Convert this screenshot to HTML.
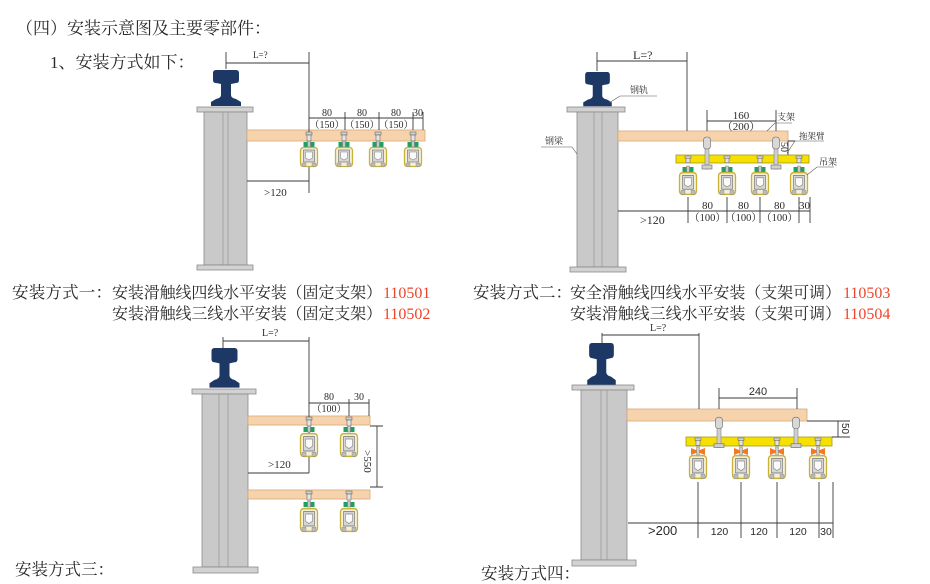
<!DOCTYPE html>
<html><head><meta charset="utf-8">
<style>
html,body{margin:0;padding:0;background:#fff;}
svg{display:block;}
.t{font-family:"Liberation Serif","Noto Serif CJK SC",serif;fill:#2a2a2a;}
.s{font-family:"Liberation Sans","Noto Sans CJK SC",sans-serif;fill:#2a2a2a;}
.r{font-family:"Liberation Serif",serif;fill:#f0442a;}
.d{stroke:#3a3a3a;stroke-width:0.9;fill:none;}
.pl{fill:#d2d2d2;stroke:#8a8a8a;stroke-width:0.8;}
.cl{fill:#c9c9c9;stroke:#8a8a8a;stroke-width:0.8;}
.il{stroke:#9c9c9c;stroke-width:0.8;}
.bm{fill:#f7d3ad;stroke:#d6a878;stroke-width:0.8;}
.yl{fill:#f6e000;stroke:#a89a10;stroke-width:0.8;}
</style></head><body>
<svg width="930" height="584" viewBox="0 0 930 584" xmlns="http://www.w3.org/2000/svg">
<defs>
<path id="rail" d="M-13,3 Q-13,0 -10,0 L10,0 Q13,0 13,3 L13,10 Q13,13 10,13 L5,14 L5,25 Q5,28 10,29 L15,32 L15,36 L-15,36 L-15,32 L-10,29 Q-5,28 -5,25 L-5,14 L-10,13 Q-13,13 -13,10 Z" fill="#1d3865"/>
<g id="cf">
 <rect x="-8.5" y="0.5" width="17" height="19" rx="3" fill="#f4f0d8" stroke="#c8b23a" stroke-width="1.3"/>
 <rect x="-5.5" y="3" width="11" height="12" fill="#d6d6d6" stroke="#7a7a7a" stroke-width="0.7"/>
 <path d="M-3.5,5 L3.5,5 L3.5,11 L0,13 L-3.5,11 Z" fill="#fafafa" stroke="#888" stroke-width="0.6"/>
 <path d="M-7,16 L-3,16 L-3,19.5 L-7,19.5 Z M3,16 L7,16 L7,19.5 L3,19.5 Z" fill="#bbb" stroke="#888" stroke-width="0.4"/>
</g>
<g id="gn">
 <rect x="-5.5" y="0" width="11" height="5" fill="#1fa060"/>
 <rect x="-1.5" y="-1" width="3" height="6" fill="#c9c9c9" stroke="#666" stroke-width="0.4"/>
</g>
<g id="or">
 <path d="M-7,0 L-2,2 L2,2 L7,0 L7,7 L2,5 L-2,5 L-7,7 Z" fill="#f47a22"/>
 <rect x="-1.5" y="-1" width="3" height="8" fill="#ccc" stroke="#777" stroke-width="0.4"/>
</g>
<g id="bt">
 <rect x="-3" y="0" width="6" height="3" fill="#d0d0d0" stroke="#555" stroke-width="0.5"/>
 <rect x="-2" y="3" width="4" height="6" fill="#e4e4e4" stroke="#555" stroke-width="0.5"/>
</g>
<g id="hb">
 <rect x="-2" y="0" width="4" height="28" fill="#cfcfcf" stroke="#777" stroke-width="0.5"/>
 <rect x="-3.5" y="-4" width="7" height="12" rx="3" fill="#d8d8d8" stroke="#666" stroke-width="0.6"/>
 <rect x="-5" y="24" width="10" height="4" fill="#d0d0d0" stroke="#666" stroke-width="0.6"/>
</g>
</defs>

<!-- Header text -->
<text class="t" x="16" y="34" font-size="17">（四）安装示意图及主要零部件：</text>
<text class="t" x="50" y="68" font-size="17">1、安装方式如下：</text>

<!-- ============ Diagram 1 ============ -->
<rect class="pl" x="197" y="107" width="56" height="5"/>
<rect class="cl" x="204" y="112" width="43" height="153"/>
<line class="il" x1="223" y1="112" x2="223" y2="265"/>
<line class="il" x1="228" y1="112" x2="228" y2="265"/>
<rect class="pl" x="197" y="265" width="56" height="5"/>
<use href="#rail" transform="translate(226,70)"/>
<rect class="bm" x="247" y="130" width="178" height="11"/>
<!-- dims -->
<path class="d" d="M226,52 V69 M226,63 H309 M309,52 V193 M309,118 H423 M345,112 V130 M379,112 V130 M413,112 V130 M423,112 V130 M247,181 H309"/>
<text class="t" x="253" y="58" font-size="9">L=?</text>
<g class="t" font-size="10" text-anchor="middle">
<text x="327" y="116">80</text><text x="362" y="116">80</text><text x="396" y="116">80</text><text x="418" y="116">30</text>
<text x="327" y="128">（150）</text><text x="362" y="128">（150）</text><text x="396" y="128">（150）</text>
</g>
<text class="t" x="264" y="196" font-size="11">&gt;120</text>
<!-- collectors -->
<g>
<use href="#bt" transform="translate(309,132)"/><use href="#gn" transform="translate(309,142)"/><use href="#cf" transform="translate(309,147)"/>
<use href="#bt" transform="translate(344,132)"/><use href="#gn" transform="translate(344,142)"/><use href="#cf" transform="translate(344,147)"/>
<use href="#bt" transform="translate(378,132)"/><use href="#gn" transform="translate(378,142)"/><use href="#cf" transform="translate(378,147)"/>
<use href="#bt" transform="translate(413,132)"/><use href="#gn" transform="translate(413,142)"/><use href="#cf" transform="translate(413,147)"/>
</g>

<!-- Captions 1 -->
<text class="t" x="12" y="298" font-size="16.5" textLength="100" lengthAdjust="spacing">安装方式一：</text>
<text class="t" x="112" y="298" font-size="16" textLength="270" lengthAdjust="spacing">安装滑触线四线水平安装（固定支架）</text>
<text class="r" x="383" y="298" font-size="16">110501</text>
<text class="t" x="112" y="319" font-size="16" textLength="270" lengthAdjust="spacing">安装滑触线三线水平安装（固定支架）</text>
<text class="r" x="383" y="319" font-size="16">110502</text>

<!-- ============ Diagram 2 ============ -->
<rect class="pl" x="567" y="107" width="58" height="5"/>
<rect class="cl" x="577" y="112" width="41" height="155"/>
<line class="il" x1="594" y1="112" x2="594" y2="267"/>
<line class="il" x1="602" y1="112" x2="602" y2="267"/>
<rect class="pl" x="570" y="267" width="56" height="5"/>
<use href="#rail" transform="translate(597.5,72) scale(0.95,0.95)"/>
<rect class="bm" x="618" y="131" width="170" height="10"/>
<rect class="yl" x="676" y="155" width="133" height="8"/>
<use href="#hb" transform="translate(707,141)"/>
<use href="#hb" transform="translate(776,141)"/>
<!-- collectors -->
<use href="#bt" transform="translate(688,156) scale(1,0.75)"/><use href="#gn" transform="translate(688,167)"/><use href="#cf" transform="translate(688,172) scale(1,1.15)"/>
<use href="#bt" transform="translate(727,156) scale(1,0.75)"/><use href="#gn" transform="translate(727,167)"/><use href="#cf" transform="translate(727,172) scale(1,1.15)"/>
<use href="#bt" transform="translate(760,156) scale(1,0.75)"/><use href="#gn" transform="translate(760,167)"/><use href="#cf" transform="translate(760,172) scale(1,1.15)"/>
<use href="#bt" transform="translate(799,156) scale(1,0.75)"/><use href="#gn" transform="translate(799,167)"/><use href="#cf" transform="translate(799,172) scale(1,1.15)"/>
<!-- dims -->
<path class="d" d="M597,52 V71 M597,61 H687 M687,52 V131 M707,110 V131 M776,110 V131 M707,121 H776 M788,141 H795 M788,141 V155"/>
<path class="d" d="M618,211 H810 M688,197 V223 M727,197 V223 M760,197 V223 M799,197 V223 M810,197 V223"/>
<text class="t" x="633" y="59" font-size="12">L=?</text>
<g class="t" font-size="11" text-anchor="middle">
<text x="741" y="119">160</text>
<text x="741" y="130">（200）</text>
<text x="707.5" y="209">80</text><text x="743.5" y="209">80</text><text x="779.5" y="209">80</text><text x="804.5" y="209">30</text>
</g>
<g class="t" font-size="10.5" text-anchor="middle">
<text x="707.5" y="221">（100）</text><text x="743.5" y="221">（100）</text><text x="779.5" y="221">（100）</text>
</g>
<text class="t" x="640" y="224" font-size="12">&gt;120</text>
<text class="t" font-size="10" transform="translate(781,142) rotate(90)">50</text>
<!-- leader labels -->
<path d="M609,103 L620,96 H657" stroke="#555" stroke-width="0.6" fill="none"/>
<text class="t" x="630" y="93" font-size="9">钢轨</text>
<path d="M577,154 L572,147 H541" stroke="#555" stroke-width="0.6" fill="none"/>
<text class="t" x="545" y="144" font-size="9">钢梁</text>
<path d="M767,131 L775,123 H792" stroke="#555" stroke-width="0.6" fill="none"/>
<text class="t" x="777" y="120" font-size="9">支架</text>
<path d="M787,153 L795,141 H824" stroke="#555" stroke-width="0.6" fill="none"/>
<text class="t" x="799" y="139" font-size="8.5">拖架臂</text>
<path d="M807,175 L817,167 H834" stroke="#555" stroke-width="0.6" fill="none"/>
<text class="t" x="819" y="165" font-size="9">吊架</text>

<!-- Captions 2 -->
<text class="t" x="473" y="298" font-size="16.5" textLength="99" lengthAdjust="spacing">安装方式二：</text>
<text class="t" x="570" y="298" font-size="16" textLength="271" lengthAdjust="spacing">安全滑触线四线水平安装（支架可调）</text>
<text class="r" x="843" y="298" font-size="16">110503</text>
<text class="t" x="570" y="319" font-size="16" textLength="271" lengthAdjust="spacing">安装滑触线三线水平安装（支架可调）</text>
<text class="r" x="843" y="319" font-size="16">110504</text>

<!-- ============ Diagram 3 ============ -->
<rect class="pl" x="192" y="389" width="64" height="5"/>
<rect class="cl" x="202" y="394" width="46" height="173"/>
<line class="il" x1="219" y1="394" x2="219" y2="567"/>
<line class="il" x1="228" y1="394" x2="228" y2="567"/>
<rect class="pl" x="193" y="567" width="65" height="6"/>
<use href="#rail" transform="translate(224.5,348) scale(1,1.1)"/>
<rect class="bm" x="248" y="416" width="122" height="9"/>
<rect class="bm" x="248" y="490" width="122" height="9"/>
<path class="d" d="M223,337 V348 M223,341 H309 M309,337 V473 M309,403 H369 M349,399 V416 M369,399 V416 M370,426 H383 M370,487 H383 M377,426 V487 M248,473 H309"/>
<text class="t" x="262" y="336" font-size="10">L=?</text>
<g class="t" font-size="10" text-anchor="middle">
<text x="329" y="400">80</text><text x="359" y="400">30</text>
<text x="329" y="412">（100）</text>
</g>
<text class="t" x="268" y="468" font-size="11">&gt;120</text>
<text class="t" font-size="11" transform="translate(364,450) rotate(90)">&gt;550</text>
<use href="#bt" transform="translate(309,417)"/><use href="#gn" transform="translate(309,427)"/><use href="#cf" transform="translate(309,433) scale(1,1.2)"/>
<use href="#bt" transform="translate(349,417)"/><use href="#gn" transform="translate(349,427)"/><use href="#cf" transform="translate(349,433) scale(1,1.2)"/>
<use href="#bt" transform="translate(309,491)"/><use href="#gn" transform="translate(309,502)"/><use href="#cf" transform="translate(309,508) scale(1,1.2)"/>
<use href="#bt" transform="translate(349,491)"/><use href="#gn" transform="translate(349,502)"/><use href="#cf" transform="translate(349,508) scale(1,1.2)"/>

<text class="t" x="15" y="575" font-size="16.5">安装方式三：</text>

<!-- ============ Diagram 4 ============ -->
<rect class="pl" x="572" y="385" width="62" height="5"/>
<rect class="cl" x="581" y="390" width="46" height="170"/>
<line class="il" x1="601" y1="390" x2="601" y2="560"/>
<line class="il" x1="607" y1="390" x2="607" y2="560"/>
<rect class="pl" x="572" y="560" width="64" height="6"/>
<use href="#rail" transform="translate(601.5,343) scale(0.95,1.16)"/>
<rect class="bm" x="627" y="409" width="180" height="12"/>
<rect class="yl" x="686" y="437" width="146" height="9"/>
<use href="#hb" transform="translate(719,421) scale(1,0.95)"/>
<use href="#hb" transform="translate(796,421) scale(1,0.95)"/>
<use href="#bt" transform="translate(698,438) scale(1,0.8)"/><use href="#or" transform="translate(698,448)"/><use href="#cf" transform="translate(698,455) scale(1,1.2)"/>
<use href="#bt" transform="translate(741,438) scale(1,0.8)"/><use href="#or" transform="translate(741,448)"/><use href="#cf" transform="translate(741,455) scale(1,1.2)"/>
<use href="#bt" transform="translate(777,438) scale(1,0.8)"/><use href="#or" transform="translate(777,448)"/><use href="#cf" transform="translate(777,455) scale(1,1.2)"/>
<use href="#bt" transform="translate(818,438) scale(1,0.8)"/><use href="#or" transform="translate(818,448)"/><use href="#cf" transform="translate(818,455) scale(1,1.2)"/>
<path class="d" d="M602,333 V343 M602,335 H699 M699,333 V409 M719,388 V409 M797,388 V409 M719,398 H797 M807,421 H850 M832,437 H850 M838,421 V437"/>
<path class="d" d="M628,523 H833 M698,482 V538 M741,482 V538 M777,482 V538 M819,482 V538 M833,482 V538"/>
<text class="t" x="650" y="331" font-size="10">L=?</text>
<text class="s" x="758" y="395" font-size="11" text-anchor="middle">240</text>
<text class="s" font-size="10" transform="translate(842,423) rotate(90)">50</text>
<text class="s" x="648" y="535" font-size="13">&gt;200</text>
<g class="s" font-size="10.5" text-anchor="middle">
<text x="719.5" y="535">120</text><text x="759" y="535">120</text><text x="798" y="535">120</text><text x="826" y="535">30</text>
</g>

<text class="t" x="481" y="579" font-size="16.5">安装方式四：</text>
</svg>
</body></html>
